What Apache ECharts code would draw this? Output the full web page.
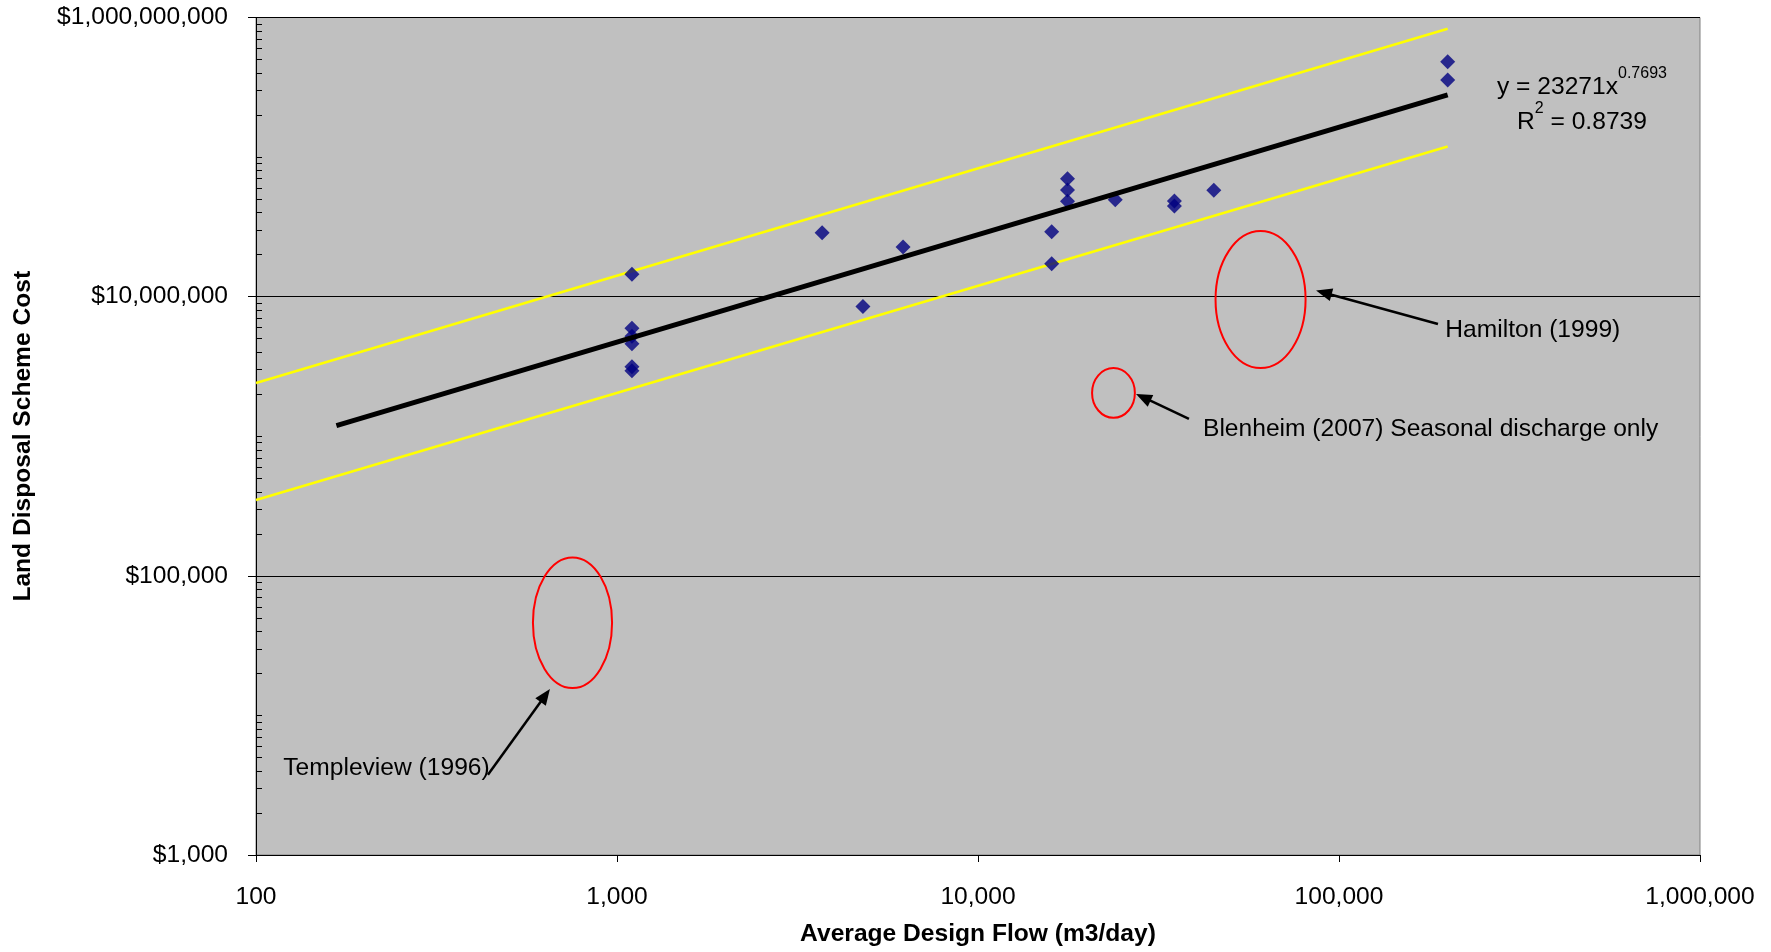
<!DOCTYPE html>
<html><head><meta charset="utf-8">
<script src="https://cdn.jsdelivr.net/npm/echarts@6/dist/echarts.min.js"></script>
<style>html,body{margin:0;padding:0;background:#fff}#c{width:1771px;height:952px}</style>
</head><body><div id="c"></div>
<script>
// ---- data ----
const flows = [1100, 1100, 1100, 1100, 1100, 1100, 3700, 4800, 6200, 16000, 16000, 17700, 17700, 17700, 24000, 35000, 35000, 45000, 200000, 200000];
const costs = [14.5e6, 5.95e6, 5.2e6, 4.6e6, 3.15e6, 2.95e6, 28.7e6, 8.5e6, 22.7e6, 29.2e6, 17.2e6, 70e6, 58e6, 48.3e6, 49.5e6, 48.5e6, 44.6e6, 57.9e6, 481e6, 356e6];
const trendX = [167, 200000];
const trendY = [1.19e6, 2.79e8];
const upperX = [100, 200000];
const upperY = [2.41e6, 8.3e8];
const lowerX = [100, 200000];
const lowerY = [3.49e5, 1.19e8];
const xTickValues = [100, 1000, 10000, 100000, 1000000];
const yTickValues = [1e3, 1e5, 1e7, 1e9];
const xTitle = 'Average Design Flow (m3/day)';
const yTitle = 'Land Disposal Scheme Cost';
const eqLine1 = 'y = 23271x';
const eqExp = '0.7693';
const eqLine2 = ' = 0.8739';
// annotation anchors (data coordinates)
const ellipseNames = ['Hamilton', 'Blenheim', 'Templeview'];
const ellipseX = [[45500, 80800], [20700, 27200], [585, 969]];
const ellipseY = [[29.5e6, 3.08e6], [3.08e6, 1.356e6], [135.5e3, 15.7e3]];
const arrowTail = [[188000, 6.37e6], [38400, 1.33e6], [439, 3760]];
const arrowHead = [[86400, 11.06e6], [27400, 2.01e6], [652, 15460]];
const noteText = ['Hamilton (1999)', 'Blenheim (2007) Seasonal discharge only', 'Templeview (1996)'];
const noteAnchor = [[197000, 5.75e6], [42000, 1.12e6], [119, 4200]];
const eqAnchor = [[471000, 340e6], [471000, 191e6]];

const yMinorTicks = [];
for (let k = 3; k <= 8; k++) for (let n = 1; n <= 9; n++) {
  const v = n * Math.pow(10, k);
  if (yTickValues.indexOf(v) < 0) yMinorTicks.push(v);
}

const FONT = '"Liberation Sans", Arial, sans-serif';
const FS = 24.6;
const fmt = v => Math.round(v).toLocaleString('en-US');

const chart = echarts.init(document.getElementById('c'));
chart.setOption({
  animation: false,
  backgroundColor: '#ffffff',
  grid: { left: 256, top: 17.5, right: 71, bottom: 94, show: true, backgroundColor: '#C0C0C0', borderColor: '#808080', borderWidth: 1 },
  xAxis: {
    type: 'log', logBase: 10, min: 100, max: 1000000,
    name: xTitle, nameLocation: 'middle', nameGap: 67,
    nameTextStyle: { fontFamily: FONT, fontSize: FS, fontWeight: 'bold', color: '#000' },
    axisLine: { show: true, lineStyle: { color: '#000', width: 1 } },
    axisTick: { show: true, inside: false, length: 7, lineStyle: { color: '#000' }, customValues: xTickValues },
    axisLabel: { fontFamily: FONT, fontSize: FS, color: '#000', margin: 30, formatter: fmt, customValues: xTickValues },
    splitLine: { show: false }
  },
  yAxis: [{
    type: 'log', logBase: 10, min: 1000, max: 1e9, interval: 2,
    name: yTitle, nameLocation: 'middle', nameGap: 220, nameRotate: 90,
    nameTextStyle: { fontFamily: FONT, fontSize: FS, fontWeight: 'bold', color: '#000' },
    axisLine: { show: true, lineStyle: { color: '#000', width: 1 } },
    axisTick: { show: true, inside: false, length: 8, lineStyle: { color: '#000' }, customValues: yTickValues },
    axisLabel: { fontFamily: FONT, fontSize: FS, color: '#000', margin: 28, padding: [6, 0, 0, 0], formatter: v => '$' + fmt(v), customValues: yTickValues },
    splitLine: { show: true, lineStyle: { color: '#000', width: 1 } }
  }, {
    type: 'log', logBase: 10, min: 1000, max: 1e9, position: 'left',
    axisLine: { show: false },
    axisLabel: { show: false },
    splitLine: { show: false },
    axisTick: { show: true, inside: true, length: 6, lineStyle: { color: '#000' }, customValues: yMinorTicks }
  }],
  series: [
    { type: 'line', name: 'upper', data: upperX.map((x, i) => [x, upperY[i]]), symbol: 'none', lineStyle: { color: '#FFFF00', width: 2.5 }, z: 2 },
    { type: 'line', name: 'lower', data: lowerX.map((x, i) => [x, lowerY[i]]), symbol: 'none', lineStyle: { color: '#FFFF00', width: 2.5 }, z: 2 },
    { type: 'scatter', name: 'schemes', data: flows.map((x, i) => [x, costs[i]]), symbol: 'diamond', symbolSize: 15, itemStyle: { color: '#000080' }, z: 3 },
    { type: 'line', name: 'trend', data: trendX.map((x, i) => [x, trendY[i]]), symbol: 'none', lineStyle: { color: '#000', width: 5 }, z: 4 }
  ]
});

function px(p) { return chart.convertToPixel({ xAxisIndex: 0, yAxisIndex: 0 }, p); }
const g = [];
ellipseNames.forEach((nm, i) => {
  const a = px([ellipseX[i][0], ellipseY[i][0]]);
  const b = px([ellipseX[i][1], ellipseY[i][1]]);
  g.push({ type: 'ellipse', z: 10, shape: { cx: (a[0] + b[0]) / 2, cy: (a[1] + b[1]) / 2, rx: Math.abs(b[0] - a[0]) / 2, ry: Math.abs(b[1] - a[1]) / 2 },
    style: { fill: null, stroke: '#FF0000', lineWidth: 2 } });
  const t = px(arrowTail[i]), h = px(arrowHead[i]);
  const dx = h[0] - t[0], dy = h[1] - t[1], L = Math.hypot(dx, dy);
  const ux = dx / L, uy = dy / L, nx = -uy, ny = ux;
  const AL = 16, AW = 6.5;
  g.push({ type: 'line', z: 10, shape: { x1: t[0], y1: t[1], x2: h[0] - ux * AL * 0.7, y2: h[1] - uy * AL * 0.7 }, style: { stroke: '#000', lineWidth: 2.5 } });
  g.push({ type: 'polygon', z: 10, shape: { points: [[h[0], h[1]], [h[0] - ux * AL + nx * AW, h[1] - uy * AL + ny * AW], [h[0] - ux * AL - nx * AW, h[1] - uy * AL - ny * AW]] }, style: { fill: '#000' } });
  const n = px(noteAnchor[i]);
  g.push({ type: 'text', z: 11, x: n[0], y: n[1], style: { text: noteText[i], fontFamily: FONT, fontSize: FS, fill: '#000', align: 'left', verticalAlign: 'middle' } });
});
const e1 = px(eqAnchor[0]), e2 = px(eqAnchor[1]);
const rich = { b: { fontFamily: FONT, fontSize: FS, fill: '#000', lineHeight: 34, verticalAlign: 'bottom' }, s: { fontFamily: FONT, fontSize: 16, fill: '#000', lineHeight: 34, verticalAlign: 'top' } };
g.push({ type: 'text', z: 11, x: e1[0], y: e1[1], style: { text: '{b|' + eqLine1 + '}{s|' + eqExp + '}', align: 'center', verticalAlign: 'middle', rich: rich } });
g.push({ type: 'text', z: 11, x: e2[0], y: e2[1], style: { text: '{b|R}{s|2}{b|' + eqLine2 + '}', align: 'center', verticalAlign: 'middle', rich: rich } });
chart.setOption({ graphic: g });
</script>
</body></html>
